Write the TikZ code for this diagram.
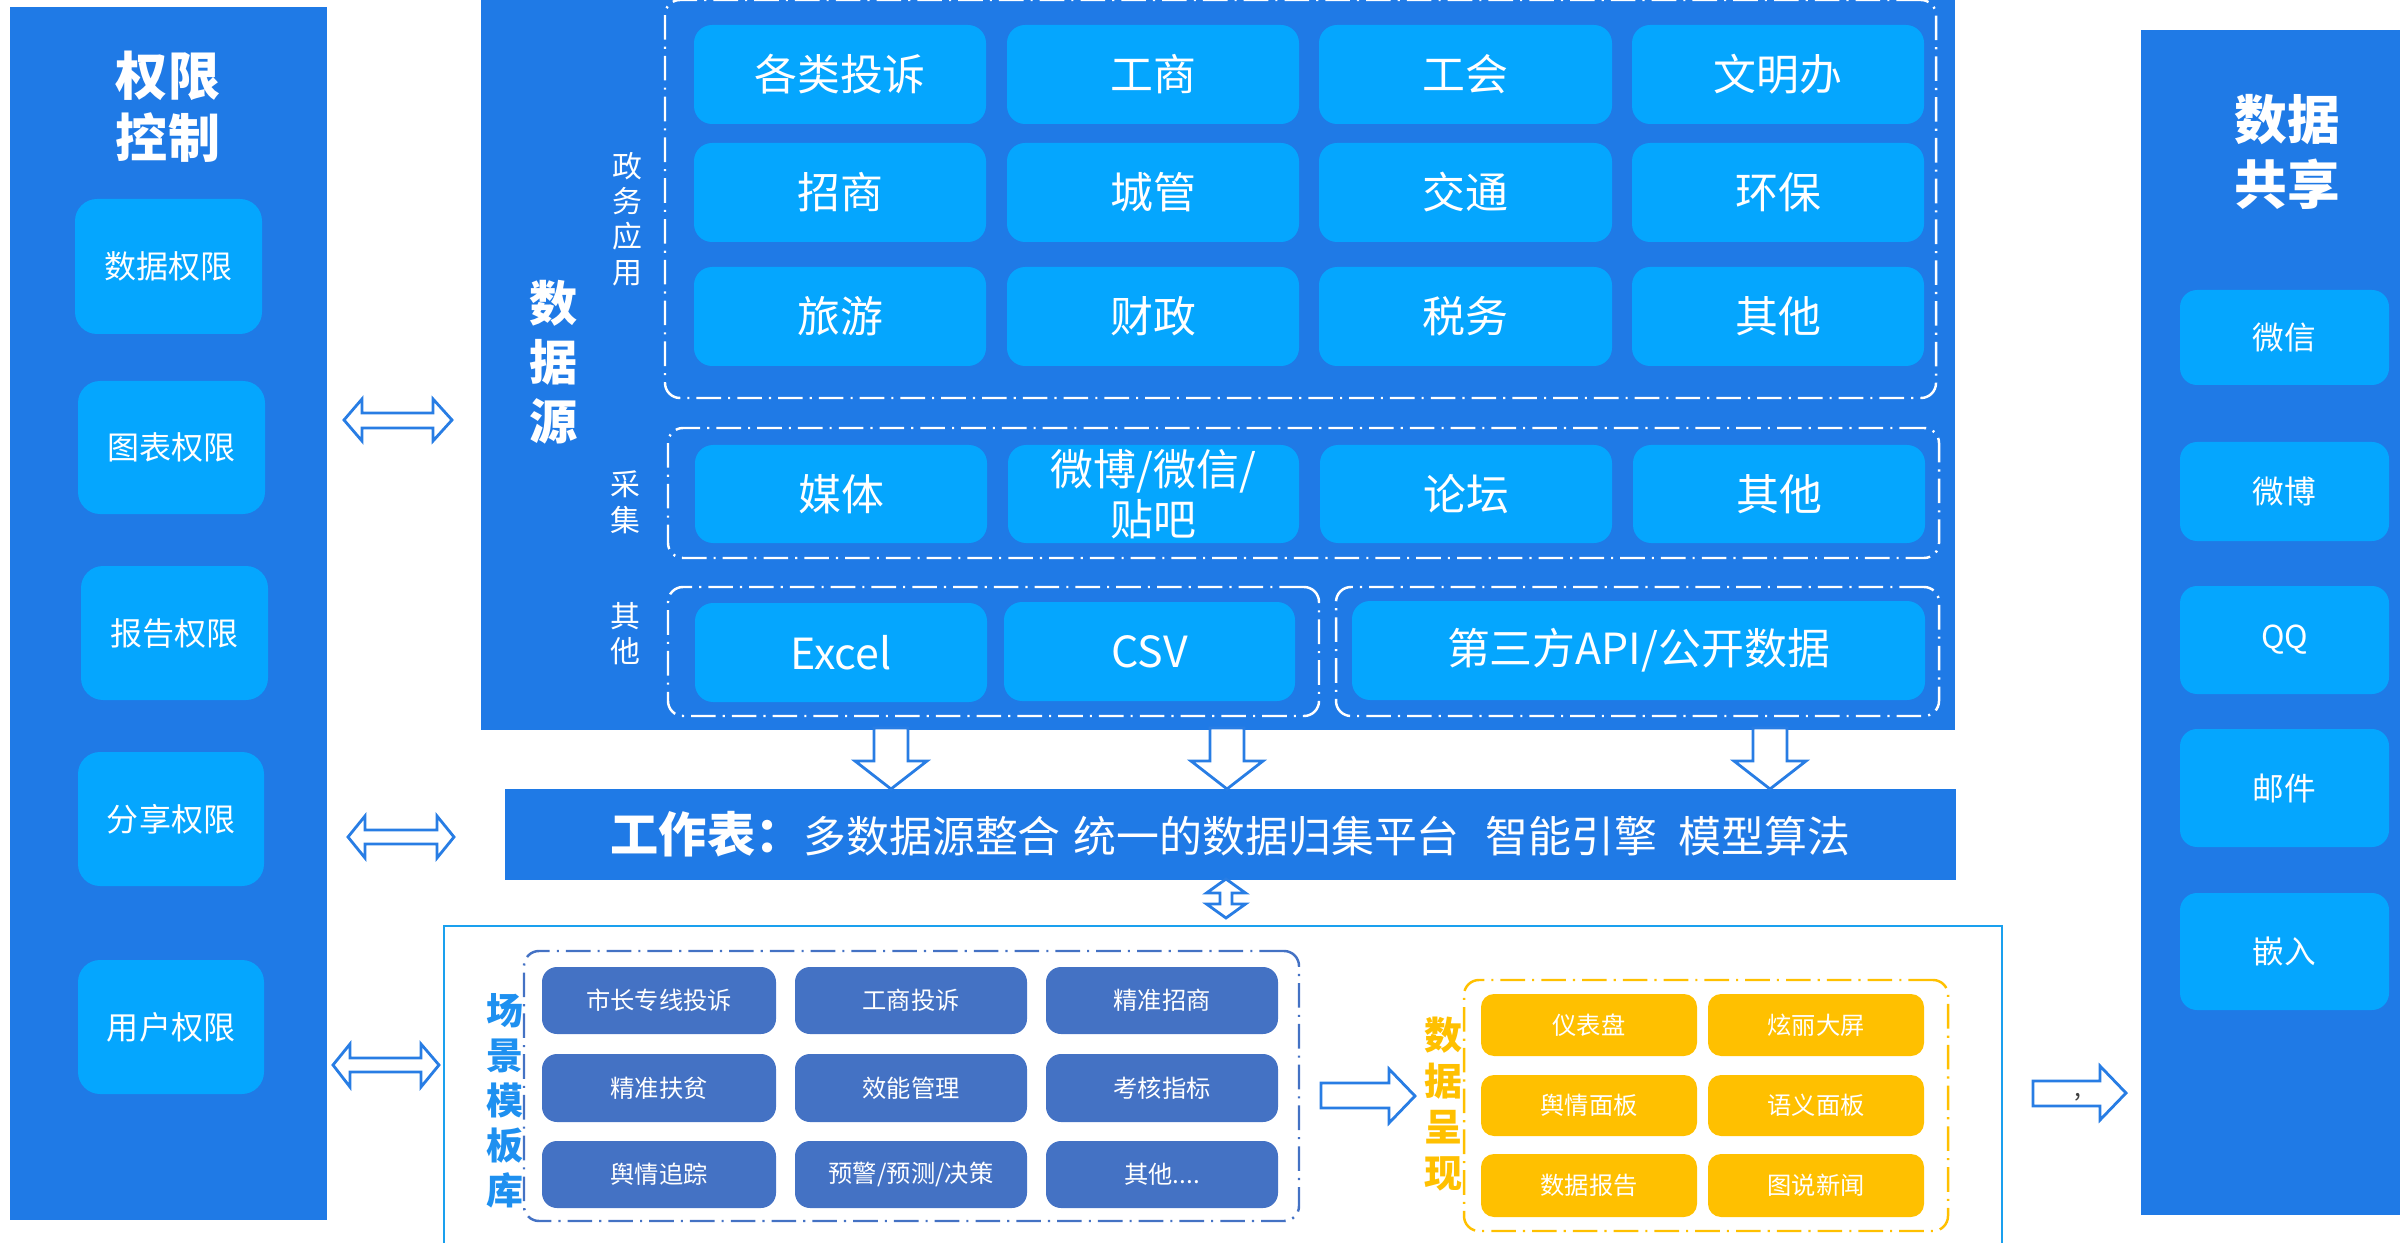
\documentclass[tikz,border=0pt]{standalone}
\usepackage{fontspec}
\setmainfont{Noto Sans CJK SC}
\definecolor{panelblue}{RGB}{31,122,230}
\definecolor{skyblue}{RGB}{5,166,254}
\definecolor{tplblue}{RGB}{68,114,196}
\definecolor{goldc}{RGB}{255,192,0}
\definecolor{lblblue}{RGB}{30,144,240}
\definecolor{outerblue}{RGB}{26,160,238}
\definecolor{arrowblue}{RGB}{40,125,228}
\newcommand\fs[2]{\fontsize{#1}{#2}\selectfont}
\newcommand\bx[7]{\node[#1, minimum width={(#5-#3)*0.01cm}, minimum height={(#6-#4)*0.01cm}] (#2) at ({(#3+#5)/2},{(#4+#6)/2}) {#7};}
\tikzset{
  panel/.style={fill=panelblue, inner sep=0pt, outer sep=0pt},
  sky/.style={fill=skyblue, rounded corners=0.16cm, text=white, inner sep=0pt, align=center},
  permbox/.style={sky, rounded corners=0.22cm, font=\fs{9.1}{11}},
  gridbox/.style={sky, rounded corners=0.18cm, font=\fs{12.2}{15.5}},
  sharebox/.style={sky, rounded corners=0.17cm, font=\fs{9}{11}},
  tplbox/.style={fill=tplblue, rounded corners=0.15cm, text=white, inner sep=0pt, font=\fs{6.9}{8}},
  showbox/.style={fill=goldc, rounded corners=0.13cm, text=white, inner sep=0pt, font=\fs{6.9}{8}},
  grp/.style={draw=white, dash pattern=on 7pt off 2pt on 0.6pt off 2pt, line width=0.7pt, rounded corners=0.15cm, inner sep=0pt},
  bigtitle/.style={text=white, font=\fs{14.8}{17.6}\bfseries, align=center, inner sep=0pt},
  vlabel/.style={text=white, font=\fs{8.5}{10}, align=center, inner sep=0pt},
  outerbox/.style={draw=outerblue, line width=0.6pt, inner sep=0pt},
  barrow/.style={draw=arrowblue, fill=white, line width=0.8pt, line join=miter},
}
\begin{document}
\begin{tikzpicture}[x=0.01cm, y=-0.01cm]
\useasboundingbox (0,0) rectangle (2400,1243);
\clip (0,0) rectangle (2400,1243);
% ---------- left panel: permissions
\bx{panel}{perm}{10}{7}{327}{1220}{}
\node[bigtitle] (permT) at (168,107) {权限\\控制};
\bx{permbox}{p1}{75}{199}{262}{334}{数据权限}
\bx{permbox}{p2}{78}{381}{265}{514}{图表权限}
\bx{permbox}{p3}{81}{566}{268}{700}{报告权限}
\bx{permbox}{p4}{78}{752}{264}{886}{分享权限}
\bx{permbox}{p5}{78}{960}{264}{1094}{用户权限}
% ---------- data source panel
\bx{panel}{ds}{481}{0}{1955}{730}{}
\node[bigtitle, font=\fs{13.7}{16.8}\bfseries] (dsT) at (554,362) {数\\据\\源};
\bx{grp}{gov}{665}{0}{1936}{398}{}
\bx{grp}{col}{668}{428}{1939}{558}{}
\bx{grp}{oth1}{668}{587}{1319}{716}{}
\bx{grp}{oth2}{1336}{587}{1939}{716}{}
\node[vlabel] (govL) at (627,219) {政\\务\\应\\用};
\node[vlabel, font=\fs{8.5}{10.3}] (colL) at (625,502) {采\\集};
\node[vlabel] (othL) at (625,634) {其\\他};
\bx{gridbox}{g11}{694}{25}{986}{124}{各类投诉}
\bx{gridbox}{g12}{1007}{25}{1299}{124}{工商}
\bx{gridbox}{g13}{1319}{25}{1612}{124}{工会}
\bx{gridbox}{g14}{1632}{25}{1924}{124}{文明办}
\bx{gridbox}{g21}{694}{143}{986}{242}{招商}
\bx{gridbox}{g22}{1007}{143}{1299}{242}{城管}
\bx{gridbox}{g23}{1319}{143}{1612}{242}{交通}
\bx{gridbox}{g24}{1632}{143}{1924}{242}{环保}
\bx{gridbox}{g31}{694}{267}{986}{366}{旅游}
\bx{gridbox}{g32}{1007}{267}{1299}{366}{财政}
\bx{gridbox}{g33}{1319}{267}{1612}{366}{税务}
\bx{gridbox}{g34}{1632}{267}{1924}{366}{其他}
\bx{gridbox}{c1}{695}{445}{987}{543}{媒体}
\bx{gridbox, font=\fs{12.2}{14.3}}{c2}{1008}{445}{1299}{543}{微博/微信/\\贴吧}
\bx{gridbox}{c3}{1320}{445}{1612}{543}{论坛}
\bx{gridbox}{c4}{1633}{445}{1925}{543}{其他}
\bx{gridbox}{o1}{695}{603}{987}{702}{Excel}
\bx{gridbox}{o2}{1004}{602}{1295}{701}{CSV}
\bx{gridbox}{o3}{1352}{601}{1925}{700}{第三方API/公开数据}
% ---------- worksheet bar
\bx{panel, text=white}{ws}{505}{789}{1956}{880}{{\fs{13.7}{16}\bfseries 工作表：}{\fs{12.2}{14}多数据源整合\hspace{0.3em}统一的数据归集平台\hspace{0.6em}智能引擎\hspace{0.5em}模型算法}}
% down arrows
\foreach \c in {891,1227,1770}{
  \draw[barrow] (\c-17,728) -- (\c+17,728) -- (\c+17,761) -- (\c+36,761) -- (\c,789) -- (\c-36,761) -- (\c-17,761) -- cycle;
}
% vertical double arrow
\draw[barrow] (1226,879) -- (1245.5,893) -- (1232,893) -- (1232,904) -- (1245.5,904) -- (1226,918) -- (1206.5,904) -- (1220,904) -- (1220,893) -- (1206.5,893) -- cycle;
% ---------- scenario area
\bx{outerbox}{scen}{444}{926}{2002}{1262}{}
\bx{grp, draw=tplblue}{tplg}{524}{951}{1299}{1221}{}
\node[bigtitle, text=lblblue, font=\fs{10.5}{12.8}\bfseries] (tplT) at (505,1101) {场\\景\\模\\板\\库};
\bx{tplbox}{t11}{542}{967}{776}{1034}{市长专线投诉}
\bx{tplbox}{t12}{795}{967}{1027}{1034}{工商投诉}
\bx{tplbox}{t13}{1046}{967}{1278}{1034}{精准招商}
\bx{tplbox}{t21}{542}{1054}{776}{1122}{精准扶贫}
\bx{tplbox}{t22}{795}{1054}{1027}{1122}{效能管理}
\bx{tplbox}{t23}{1046}{1054}{1278}{1122}{考核指标}
\bx{tplbox}{t31}{542}{1141}{776}{1208}{舆情追踪}
\bx{tplbox}{t32}{795}{1141}{1027}{1208}{预警/预测/决策}
\bx{tplbox}{t33}{1046}{1141}{1278}{1208}{其他....}
\draw[barrow] (1321,1083) -- (1389,1083) -- (1389,1069) -- (1415,1096) -- (1389,1123) -- (1389,1108) -- (1321,1108) -- cycle;
\node[bigtitle, text=goldc, font=\fs{10.8}{13.1}\bfseries] (showT) at (1443,1104) {数\\据\\呈\\现};
\bx{grp, draw=goldc}{showg}{1464}{980}{1948}{1231}{}
\bx{showbox}{s11}{1481}{994}{1697}{1056}{仪表盘}
\bx{showbox}{s12}{1708}{994}{1924}{1056}{炫丽大屏}
\bx{showbox}{s21}{1481}{1075}{1697}{1136}{舆情面板}
\bx{showbox}{s22}{1708}{1075}{1924}{1136}{语义面板}
\bx{showbox}{s31}{1481}{1154}{1697}{1217}{数据报告}
\bx{showbox}{s32}{1708}{1154}{1924}{1217}{图说新闻}
% ---------- right panel: sharing
\bx{panel}{share}{2141}{30}{2420}{1215}{}
\node[bigtitle, font=\fs{15}{18.5}\bfseries] (shareT) at (2287,152) {数据\\共享};
\bx{sharebox}{h1}{2180}{290}{2389}{385}{微信}
\bx{sharebox}{h2}{2180}{442}{2389}{541}{微博}
\bx{sharebox}{h3}{2180}{586}{2389}{694}{QQ}
\bx{sharebox}{h4}{2180}{729}{2389}{847}{邮件}
\bx{sharebox}{h5}{2180}{893}{2389}{1010}{嵌入}
\draw[barrow] (2033,1081) -- (2100,1081) -- (2100,1066) -- (2126,1093) -- (2100,1120) -- (2100,1106) -- (2033,1106) -- cycle;
\node[text=black!75, font=\fs{7}{8}, inner sep=0pt] (mark) at (2078,1097) {,};
% ---------- left double arrows
\draw[barrow] (344,420) -- (362,399) -- (362,413) -- (433,413) -- (433,399) -- (452,420) -- (433,441) -- (433,428) -- (362,428) -- (362,441) -- cycle;
\draw[barrow] (348,837) -- (365,816) -- (365,830) -- (437,830) -- (437,816) -- (454,837) -- (437,858) -- (437,844) -- (365,844) -- (365,858) -- cycle;
\draw[barrow] (333,1065) -- (350,1044) -- (350,1058) -- (421,1058) -- (421,1044) -- (439,1065) -- (421,1087) -- (421,1072) -- (350,1072) -- (350,1087) -- cycle;
\end{tikzpicture}
\end{document}
